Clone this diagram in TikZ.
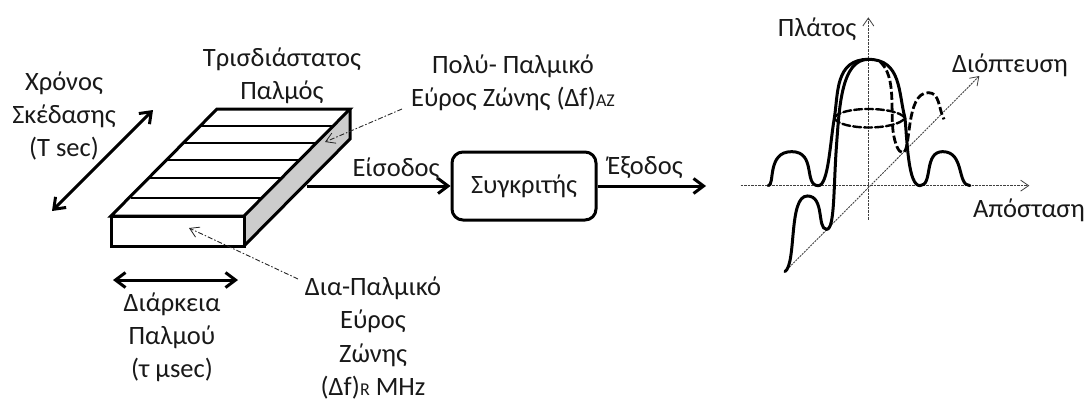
\documentclass[tikz,border=0pt]{standalone}
\usepackage{fontspec}
\setmainfont{Carlito}
\usetikzlibrary{arrows.meta}
\tikzset{
 lbl/.style={inner sep=0pt,align=center,font=\fontsize{26.5}{33.2}\selectfont,text=black!90},
 thick line/.style={line width=3pt},
 bigarrow/.style={line width=3pt,-{Straight Barb[length=10pt,width=15pt,line width=3pt]}},
 bothbig/.style={line width=3pt,{Straight Barb[length=10pt,width=15pt,line width=3pt]}-{Straight Barb[length=10pt,width=15pt,line width=3pt]}},
 leader/.style={line width=.9pt,dash pattern=on 5pt off 2pt on 1.5pt off 2pt,black!85,-{Straight Barb[length=9pt,width=11pt,line width=.8pt]}},
 axisline/.style={line width=.9pt,dash pattern=on 2.5pt off 1pt,black!75,-{Straight Barb[length=8pt,width=11pt,line width=.8pt,black!75]}},
 curve/.style={line width=3pt,line cap=round},
 dcurve/.style={line width=2.8pt,dash pattern=on 8pt off 3pt},
}
\newcommand{\subs}[1]{{\fontsize{18}{18}\selectfont #1}}
\begin{document}
\begin{tikzpicture}[x=1pt,y=-1pt]
\useasboundingbox (0,0) rectangle (1089,399);
% pulse block
\fill[black!20] (350,109) -- (350,139) -- (244,246) -- (244,216) -- cycle;
\draw[thick line,line join=miter] (217,109) -- (350,109) -- (244,216) -- (111,216) -- cycle;
\draw[thick line] (111,216) rectangle (244,246);
\draw[thick line] (350,109) -- (350,139) -- (244,246);
\foreach \a/\b/\y in {201/333/126,184/316/143,167/299/160,150/281/178,131/262/198}
  \draw[line width=2.6pt] (\a,\y) -- (\b,\y);
\coordinate (blockout) at (307,186);
\coordinate (sidept) at (325,142);
\coordinate (frontpt) at (189,228);
\coordinate (ta) at (52,211);
\coordinate (tb) at (153,110);
\coordinate (da) at (113,280);
\coordinate (db) at (238,280);
\draw[bothbig] (ta) -- (tb);
\draw[bothbig] (da) -- (db);
% labels
\node[lbl] (chronos) at (64,116) {Χρόνος\\Σκέδασης\\(T sec)};
\node[lbl] (tri) at (282,76) {Τρισδιάστατος\\Παλμός};
\node[lbl] (poly) at (513,83) {\strut Πολύ- Παλμικό\\\strut Εύρος Ζώνης (Δf)\subs{AZ}};
\node[lbl] (diark) at (172,337) {Διάρκεια\\Παλμού\\(τ μsec)};
\node[lbl] (dia) at (373,338) {Δια-Παλμικό\\Εύρος\\Ζώνης\\(Δf)\subs{R} MHz};
\coordinate (polyend) at (402,109);
\coordinate (diaend) at (298,279);
\draw[leader] (polyend) -- (sidept);
\draw[leader] (diaend) -- (frontpt);
% comparator
\node[draw,line width=3pt,rounded corners=11pt,minimum width=144pt,minimum height=68pt,inner sep=0pt,lbl] (comp) at (524,186) {Συγκριτής};
\coordinate (outend) at (706,186);
\draw[bigarrow] (blockout) -- (comp.west);
\draw[bigarrow] (comp.east) -- (outend);
\node[lbl] (in) at (396,169) {Είσοδος};
\node[lbl] (out) at (645,168) {Έξοδος};
% graph
\begin{scope}[shift={(720,0)},x=.3333pt,y=-.3333pt]
\coordinate (xa) at (62,557); \coordinate (xb) at (928,557);
\coordinate (ya) at (445,660); \coordinate (yb) at (445,52);
\coordinate (za) at (195,815); \coordinate (zb) at (778,228);
\draw[axisline] (xa) -- (xb);
\draw[axisline] (ya) -- (yb);
\draw[axisline,dash pattern=on 2pt off 1pt] (za) -- (zb);
% main curve
\draw[curve] (145,557) .. controls (165,557) and (140,455) .. (215,455)
  .. controls (290,455) and (250,557) .. (295,557)
  .. controls (325,557) and (330,430) .. (343,354)
  .. controls (355,280) and (345,178) .. (445,178)
  .. controls (545,178) and (535,280) .. (555,354)
  .. controls (562,430) and (565,557) .. (600,557)
  .. controls (640,557) and (610,455) .. (668,455)
  .. controls (735,455) and (710,557) .. (750,557);
% back lobe
\draw[curve] (195,815) .. controls (230,790) and (205,588) .. (262,588)
  .. controls (315,588) and (290,688) .. (320,688)
  .. controls (345,688) and (340,560) .. (350,430)
  .. controls (358,320) and (365,178) .. (445,178);
\draw[dcurve] (480,185) .. controls (530,230) and (510,330) .. (520,400)
  .. controls (525,430) and (535,458) .. (548,458)
  .. controls (575,458) and (555,278) .. (625,278)
  .. controls (660,278) and (655,325) .. (672,358);
% ellipse
\draw[curve,dash pattern=on 8pt off 3pt,line width=2.4pt] (343,354) .. controls (360,318) and (530,318) .. (555,354)
  .. controls (530,392) and (360,392) .. (343,354);
\end{scope}
\node[lbl] (platos) at (817,29) {Πλάτος};
\node[lbl] (diopt) at (1010,65) {Διόπτευση};
\node[lbl] (apost) at (1029,210) {Απόσταση};
\end{tikzpicture}
\end{document}
